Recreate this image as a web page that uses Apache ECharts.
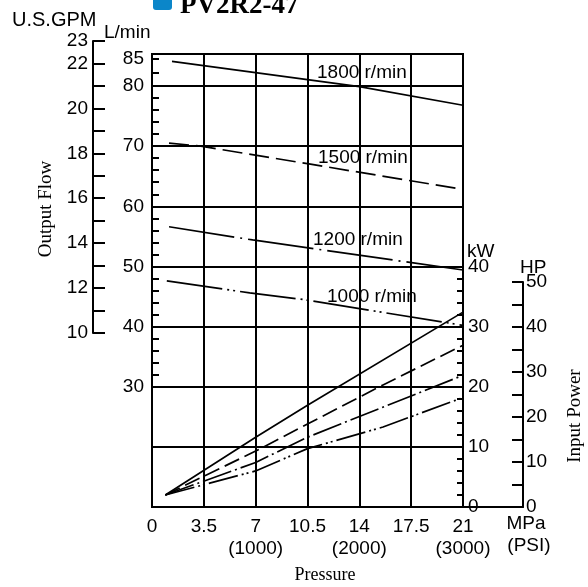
<!DOCTYPE html>
<html>
<head>
<meta charset="utf-8">
<script src="https://cdn.jsdelivr.net/npm/echarts@6/dist/echarts.min.js"></script>
<style>
html,body{margin:0;padding:0;background:#fff;}
#c{width:588px;height:587px;}
</style>
</head>
<body>
<div id="c"></div>
<script>
// ---- data ----
const title = 'PV2R2-47';
const pressureTicks = [0, 3.5, 7, 10.5, 14, 17.5, 21];
const psiLabels = ['', '', '(1000)', '', '(2000)', '', '(3000)'];
const speedLabels = ['1800 r/min', '1500 r/min', '1200 r/min', '1000 r/min'];
// Output flow (MPa, L/min)
const flow1800 = [[1.35, 84.1], [14, 79.9], [21, 76.8]];
const flow1500 = [[1.15, 70.5], [3.3, 70.0], [10.7, 67.0], [21, 62.8]];
const flow1200 = [[1.15, 56.6], [6.8, 54.4], [21, 49.4]];
const flow1000 = [[1.0, 47.6], [6.6, 45.6], [10.2, 44.5], [21, 40.2]];
// Input power (MPa, kW)
const power1800 = [[0.9, 2], [7, 11.6], [10.5, 16.9], [21, 32.4]];
const power1500 = [[0.9, 2], [7, 9.3], [10.5, 13.8], [15.6, 20.3], [21, 26.9]];
const power1200 = [[0.9, 2], [7, 7.4], [10.5, 11.6], [21, 21.9]];
const power1000 = [[0.9, 2], [7, 6.0], [10.5, 9.7], [15.6, 13.3], [21, 18.2]];

const BLK = '#000';
const SANS = '"Liberation Sans", Arial, sans-serif';
const SERIF = '"Liberation Serif", "Times New Roman", serif';
const lbl = (extra) => Object.assign({color: BLK, fontFamily: SANS, fontSize: 19}, extra || {});
const hiddenX = (g) => ({type: 'value', gridIndex: g, min: 0, max: 21, show: false});

const chart = echarts.init(document.getElementById('c'), null, {renderer: 'canvas'});

function lineSeries(data, xi, yi, dash) {
  return {
    type: 'line', xAxisIndex: xi, yAxisIndex: yi, data: data,
    symbol: 'none', clip: false, silent: true, smooth: false,
    lineStyle: {color: BLK, width: 1.7, type: dash}
  };
}

const option = {
  animation: false,
  backgroundColor: '#fff',
  grid: [
    {left: 152, top: 54, width: 311, height: 453, show: true, borderColor: BLK, borderWidth: 2, backgroundColor: 'transparent'},
    {left: 152, top: 86, width: 311, height: 300.7},
    {left: 152, top: 59, width: 311, height: 27},
    {left: 152, top: 266.4, width: 311, height: 240.6},
    {left: 152, top: 282, width: 371, height: 225},
    {left: 93, top: 41, width: 10, height: 292}
  ],
  xAxis: [
    {
      type: 'value', gridIndex: 0, min: 0, max: 21, interval: 3.5,
      axisLine: {show: true, onZero: false, lineStyle: {color: BLK, width: 2}},
      axisTick: {show: false},
      splitLine: {show: true, lineStyle: {color: BLK, width: 2}},
      axisLabel: lbl({margin: 9, lineHeight: 22, formatter: function (v) {
        const i = pressureTicks.findIndex(t => Math.abs(t - v) < 1e-6);
        if (i < 0) return '';
        return psiLabels[i] ? (String(pressureTicks[i]) + '\n' + psiLabels[i]) : String(pressureTicks[i]);
      }})
    },
    hiddenX(1), hiddenX(2), hiddenX(3),
    {type: 'value', gridIndex: 4, min: 0, max: 1,
      axisLine: {show: true, onZero: false, lineStyle: {color: BLK, width: 2}},
      axisTick: {show: false}, axisLabel: {show: false}, splitLine: {show: false}},
    {type: 'value', gridIndex: 5, min: 0, max: 1, show: false}
  ],
  yAxis: [
    {type: 'value', gridIndex: 0, min: 0, max: 1, show: false},
    {
      type: 'value', gridIndex: 1, min: 30, max: 80, interval: 10, position: 'left',
      axisLine: {show: false, onZero: false},
      axisTick: {show: true, inside: true, length: 7, lineStyle: {color: BLK, width: 2}},
      minorTick: {show: true, splitNumber: 5, length: 7, lineStyle: {color: BLK, width: 2}},
      splitLine: {show: true, lineStyle: {color: BLK, width: 2}},
      axisLabel: lbl({margin: 8})
    },
    {
      type: 'value', gridIndex: 2, min: 80, max: 85, interval: 2.5, position: 'left',
      axisLine: {show: false, onZero: false},
      axisTick: {show: true, inside: true, length: 7, lineStyle: {color: BLK, width: 2}},
      splitLine: {show: false},
      axisLabel: lbl({margin: 8, formatter: v => (v === 85 ? '85' : '')})
    },
    {
      type: 'value', gridIndex: 3, min: 0, max: 40, interval: 10, position: 'right',
      axisLine: {show: false, onZero: false},
      axisTick: {show: true, inside: true, length: 6, lineStyle: {color: BLK, width: 2}},
      minorTick: {show: true, splitNumber: 5, length: 6, lineStyle: {color: BLK, width: 2}},
      splitLine: {show: true, lineStyle: {color: BLK, width: 2}},
      axisLabel: lbl({margin: 5})
    },
    {
      type: 'value', gridIndex: 4, min: 0, max: 50, interval: 10, position: 'right',
      axisLine: {show: true, onZero: false, lineStyle: {color: BLK, width: 2}},
      axisTick: {show: true, inside: true, length: 11, lineStyle: {color: BLK, width: 2}},
      minorTick: {show: true, splitNumber: 2, length: 11, lineStyle: {color: BLK, width: 2}},
      splitLine: {show: false},
      axisLabel: lbl({margin: 3})
    },
    {
      type: 'value', gridIndex: 5, min: 10, max: 23, interval: 1, position: 'left',
      axisLine: {show: true, onZero: false, lineStyle: {color: BLK, width: 2}},
      axisTick: {show: true, inside: true, length: 12, lineStyle: {color: BLK, width: 2}},
      splitLine: {show: false},
      axisLabel: lbl({margin: 5, formatter: v => ((v % 2 === 0 || v === 23) ? String(v) : '')})
    }
  ],
  series: [
    lineSeries(flow1800, 1, 1, 'solid'),
    lineSeries(flow1500, 1, 1, [20, 7]),
    lineSeries(flow1200, 1, 1, [66, 6, 2, 6]),
    lineSeries(flow1000, 1, 1, [56, 5, 2, 4, 2, 5]),
    lineSeries(power1800, 3, 3, 'solid'),
    lineSeries(power1500, 3, 3, [16, 6]),
    lineSeries(power1200, 3, 3, [30, 4, 2, 4]),
    lineSeries(power1000, 3, 3, [30, 4, 2, 3, 2, 4])
  ],
  graphic: [
    {type: 'rect', shape: {x: 153, y: -9, width: 19, height: 19, r: 3}, style: {fill: '#0b86c9'}},
    {type: 'text', x: 180, y: -7, style: {text: title, font: 'bold 27px ' + SERIF, fill: BLK, verticalAlign: 'top'}},
    {type: 'text', x: 12, y: 20, style: {text: 'U.S.GPM', font: '20px ' + SANS, fill: BLK, verticalAlign: 'middle'}},
    {type: 'text', x: 104, y: 33, style: {text: 'L/min', font: '19px ' + SANS, fill: BLK, verticalAlign: 'middle'}},
    {type: 'text', x: 467, y: 252, style: {text: 'kW', font: '19px ' + SANS, fill: BLK, verticalAlign: 'middle'}},
    {type: 'text', x: 520, y: 268, style: {text: 'HP', font: '19px ' + SANS, fill: BLK, verticalAlign: 'middle'}},
    {type: 'text', x: 526, y: 524, style: {text: 'MPa', font: '19px ' + SANS, fill: BLK, align: 'center', verticalAlign: 'middle'}},
    {type: 'text', x: 529, y: 546, style: {text: '(PSI)', font: '19px ' + SANS, fill: BLK, align: 'center', verticalAlign: 'middle'}},
    {type: 'text', x: 317, y: 73, style: {text: speedLabels[0], font: '19px ' + SANS, fill: BLK, verticalAlign: 'middle'}},
    {type: 'text', x: 318, y: 158, style: {text: speedLabels[1], font: '19px ' + SANS, fill: BLK, verticalAlign: 'middle'}},
    {type: 'text', x: 313, y: 240, style: {text: speedLabels[2], font: '19px ' + SANS, fill: BLK, verticalAlign: 'middle'}},
    {type: 'text', x: 327, y: 297, style: {text: speedLabels[3], font: '19px ' + SANS, fill: BLK, verticalAlign: 'middle'}},
    {type: 'text', x: 46, y: 209, rotation: Math.PI / 2, style: {text: 'Output Flow', font: '19px ' + SERIF, fill: BLK, align: 'center', verticalAlign: 'middle'}},
    {type: 'text', x: 575, y: 416, rotation: Math.PI / 2, style: {text: 'Input Power', font: '19px ' + SERIF, fill: BLK, align: 'center', verticalAlign: 'middle'}},
    {type: 'text', x: 325, y: 575, style: {text: 'Pressure', font: '18px ' + SERIF, fill: BLK, align: 'center', verticalAlign: 'middle'}}
  ]
};
chart.setOption(option);
</script>
</body>
</html>
